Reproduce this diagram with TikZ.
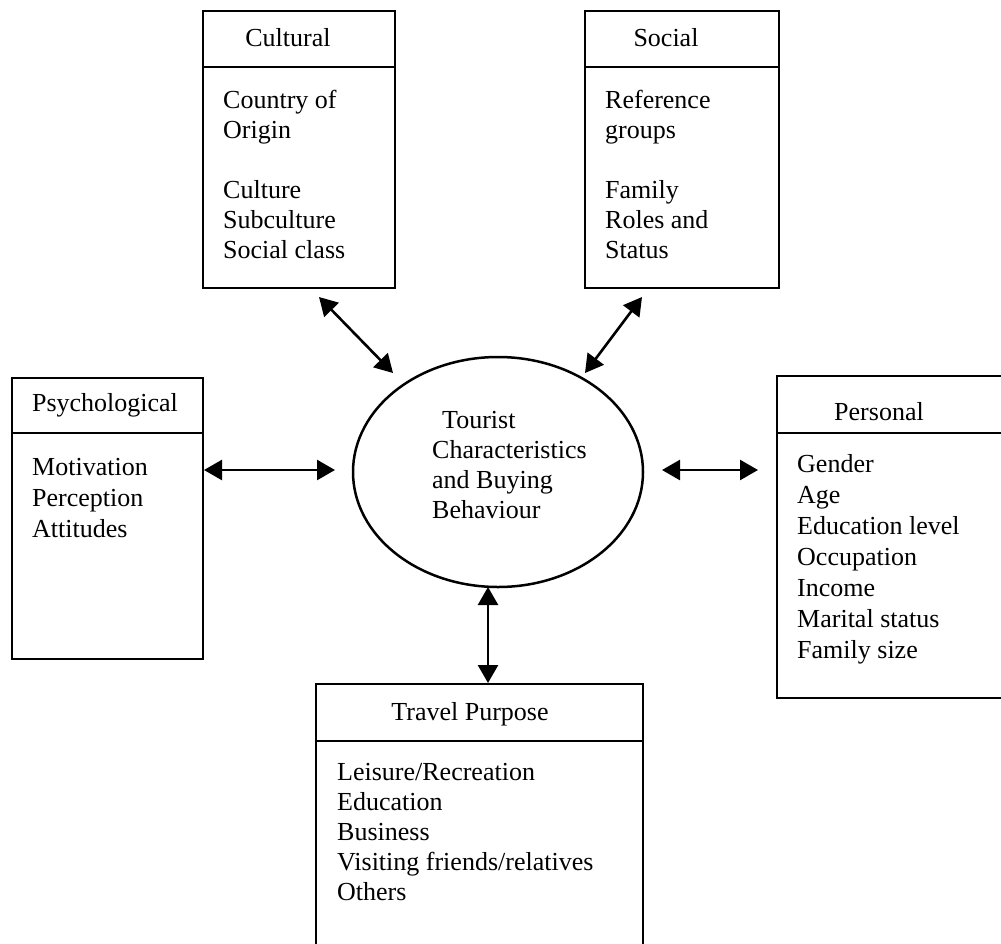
\documentclass[tikz,border=0pt]{standalone}
\usepackage{fontspec}
\setmainfont{Liberation Serif}
\usetikzlibrary{arrows.meta,shapes.geometric}
\begin{document}
\begin{tikzpicture}[x=1pt,y=-1pt,
  boxstyle/.style={draw, line width=2.3pt, inner sep=0pt, anchor=north west},
  divline/.style={line width=2.3pt},
  txt/.style={inner sep=0pt, font=\fontsize{26}{31}\selectfont},
  txtb/.style={inner sep=0pt, font=\fontsize{26}{30}\selectfont},
  conn/.style={line width=2.6pt, {Triangle[length=18pt,width=20pt]}-{Triangle[length=18pt,width=20pt]}}]
\useasboundingbox (0,0) rectangle (1001,943);

% Cultural
\node[boxstyle, minimum width=192pt, minimum height=277pt] (cultbox) at (202,10) {};
\draw[divline] (202,67) -- (394,67);
\node[txt, anchor=base] (culttitle) at (288,46) {Cultural};
\node[txtb, anchor=base west] (culttext) at (223,108) {\begin{tabular}[t]{@{}l@{}}Country of\\Origin\\[30pt]Culture\\Subculture\\Social class\end{tabular}};

% Social
\node[boxstyle, minimum width=194pt, minimum height=277pt] (socbox) at (584,10) {};
\draw[divline] (584,67) -- (778,67);
\node[txt, anchor=base] (soctitle) at (666,46) {Social};
\node[txtb, anchor=base west] (soctext) at (605,108) {\begin{tabular}[t]{@{}l@{}}Reference\\groups\\[30pt]Family\\Roles and\\Status\end{tabular}};

% Psychological
\node[boxstyle, minimum width=191pt, minimum height=281pt] (psybox) at (11,377) {};
\draw[divline] (11,433) -- (202,433);
\node[txt, anchor=base] (psytitle) at (105,411) {Psychological};
\node[txt, anchor=base west] (psytext) at (32,475) {\begin{tabular}[t]{@{}l@{}}Motivation\\Perception\\Attitudes\end{tabular}};

% Personal
\node[boxstyle, minimum width=240pt, minimum height=322pt] (perbox) at (776,375) {};
\draw[divline] (776,433) -- (1016,433);
\node[txt, anchor=base] (pertitle) at (879,420) {Personal};
\node[txt, anchor=base west] (pertext) at (797,472) {\begin{tabular}[t]{@{}l@{}}Gender\\Age\\Education level\\Occupation\\Income\\Marital status\\Family size\end{tabular}};

% Travel Purpose
\node[boxstyle, minimum width=327pt, minimum height=280pt] (trabox) at (315,683) {};
\draw[divline] (315,741) -- (642,741);
\node[txt, anchor=base] (tratitle) at (470,720) {Travel Purpose};
\node[txtb, anchor=base west] (tratext) at (337,780) {\begin{tabular}[t]{@{}l@{}}Leisure/Recreation\\Education\\Business\\Visiting friends/relatives\\Others\end{tabular}};

% Centre ellipse
\node[draw, ellipse, line width=2.5pt, inner sep=0pt, minimum width=290pt, minimum height=230pt] (ell) at (498,472) {};
\node[txtb, anchor=base west] (elltext) at (432,428) {\begin{tabular}[t]{@{}l@{}}\hspace{10pt}Tourist\\Characteristics\\and Buying\\Behaviour\end{tabular}};

% Connector end points
\coordinate (cA) at (319,297);
\coordinate (cB) at (393,373);
\coordinate (sA) at (642,297);
\coordinate (sB) at (585,373);
\coordinate (pA) at (204,470);
\coordinate (pB) at (335,470);
\coordinate (rA) at (662,470);
\coordinate (rB) at (758,470);
\coordinate (tA) at (488,587);
\coordinate (tB) at (488,683);

\draw[conn] (cA) -- (cB);
\draw[conn] (sA) -- (sB);
\draw[conn] (pA) -- (pB);
\draw[conn] (rA) -- (rB);
\draw[conn] (tA) -- (tB);
\end{tikzpicture}
\end{document}
